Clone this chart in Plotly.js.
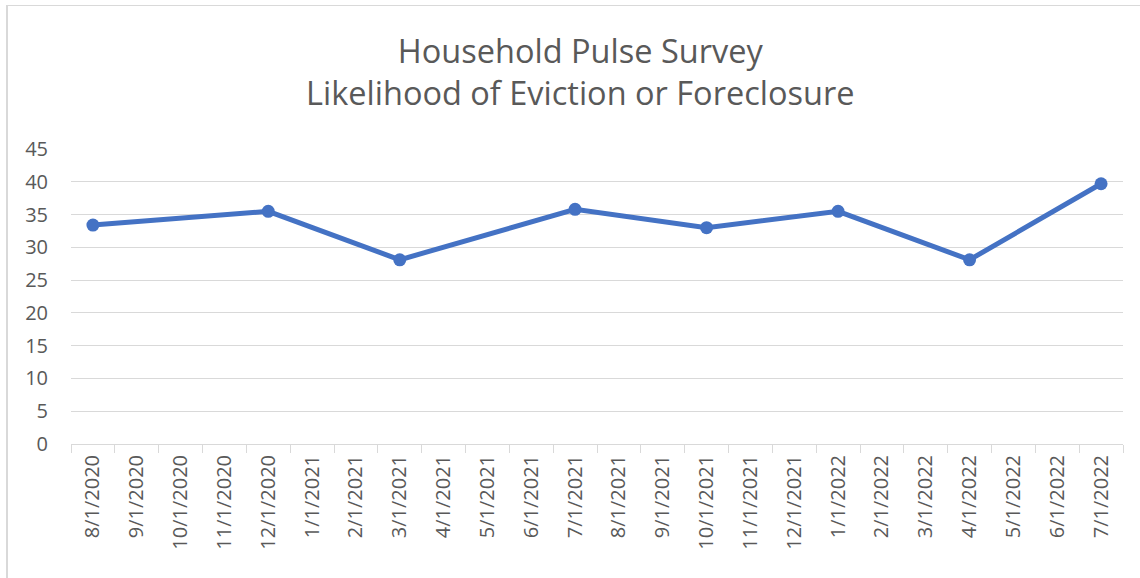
<!DOCTYPE html>
<html>
<head>
<meta charset="utf-8">
<script src="https://cdn.plot.ly/plotly-3.0.1.min.js"></script>
<style>
  html, body { margin: 0; padding: 0; background: #fff; }
  #wrap { position: relative; width: 1140px; height: 578px; overflow: hidden; }
  #chart { position: absolute; left: 0; top: 0; width: 1140px; height: 578px; }
  #frame { position: absolute; left: 6px; top: 5px; width: 1200px; height: 700px;
           border-left: 2px solid #d9d9d9; border-top: 1px solid #d9d9d9; pointer-events: none; }
</style>
</head>
<body>
<div id="wrap">
  <div id="chart"></div>
  <div id="frame"></div>
</div>
<script>
// Monthly categories (x-axis tick labels)
const categories = [
  "8/1/2020","9/1/2020","10/1/2020","11/1/2020","12/1/2020",
  "1/1/2021","2/1/2021","3/1/2021","4/1/2021","5/1/2021","6/1/2021",
  "7/1/2021","8/1/2021","9/1/2021","10/1/2021","11/1/2021","12/1/2021",
  "1/1/2022","2/1/2022","3/1/2022","4/1/2022","5/1/2022","6/1/2022","7/1/2022"
];
// Survey dates with observations
const surveyDates = ["8/1/2020","12/1/2020","3/1/2021","7/1/2021","10/1/2021","1/1/2022","4/1/2022","7/1/2022"];
// Likelihood of eviction or foreclosure (%)
const likelihood = [33.4, 35.5, 28.1, 35.8, 33.0, 35.5, 28.1, 39.7];
const yTicks = [0,5,10,15,20,25,30,35,40,45];

const fontFam = "'Open Sans', 'Noto Sans', sans-serif";
const textColor = "#595959";
const gridColor = "#d9d9d9";

const trace = {
  type: "scatter",
  mode: "lines+markers",
  x: surveyDates,
  y: likelihood,
  line: { color: "#4472C4", width: 5 },
  marker: { color: "#4472C4", size: 13 },
  cliponaxis: false,
  hoverinfo: "x+y"
};

const layout = {
  width: 1140,
  height: 578,
  margin: { l: 71, r: 17, t: 149, b: 134 },
  paper_bgcolor: "rgba(0,0,0,0)",
  plot_bgcolor: "rgba(0,0,0,0)",
  showlegend: false,
  title: {
    text: "Household Pulse Survey<br>Likelihood of Eviction or Foreclosure",
    font: { family: fontFam, size: 32.5, color: textColor },
    x: 0.509, xanchor: "center",
    y: 0.891, yanchor: "middle"
  },
  xaxis: {
    type: "category",
    categoryorder: "array",
    categoryarray: categories,
    tickvals: categories,
    ticktext: categories,
    range: [-0.5, categories.length - 0.5],
    tickson: "boundaries",
    ticks: "outside",
    ticklen: 8,
    tickwidth: 1,
    tickcolor: gridColor,
    tickangle: -90,
    showline: true,
    linecolor: gridColor,
    linewidth: 1,
    showgrid: false,
    zeroline: false,
    ticklabelstandoff: 2,
    tickfont: { family: fontFam, size: 20, color: textColor },
    fixedrange: true
  },
  yaxis: {
    range: [0, 45],
    tickvals: yTicks,
    ticktext: yTicks.map(String),
    showgrid: true,
    gridcolor: gridColor,
    gridwidth: 1,
    zeroline: false,
    showline: false,
    ticks: "",
    ticklabelstandoff: 22,
    tickfont: { family: fontFam, size: 20, color: textColor },
    fixedrange: true
  }
};

Plotly.newPlot("chart", [trace], layout, { displayModeBar: false, staticPlot: true });
</script>
</body>
</html>
